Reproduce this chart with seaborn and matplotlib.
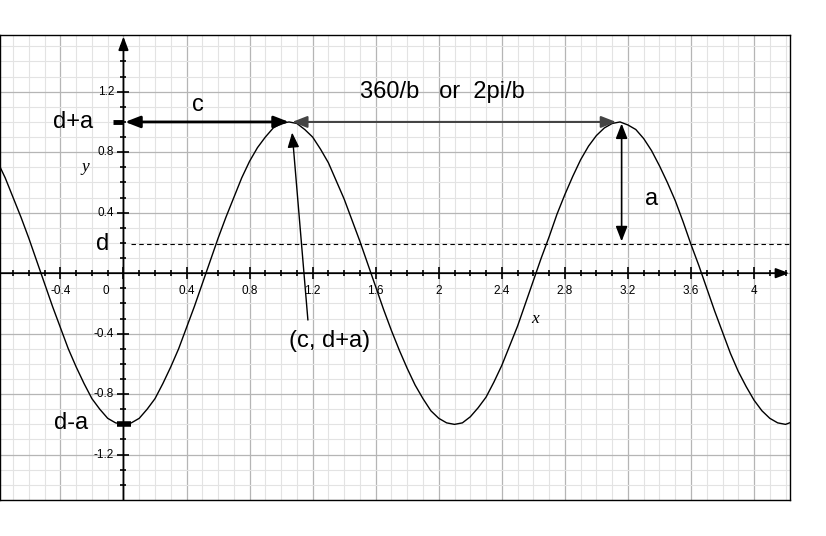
"""
Sinusoid y = d + a*cos(b(x - c)) annotated chart
"""

import matplotlib.pyplot as plt
import numpy as np
import pandas as pd
import seaborn as sns

sns.set_style("white")
plt.rcParams['font.family'] = ['Liberation Sans', 'DejaVu Sans']
plt.rcParams['text.color'] = 'black'

# curve values (x step 0.05)
curve_x = [
    -0.80, -0.75, -0.70, -0.65, -0.60, -0.55, -0.50, -0.45, -0.40, -0.35,
    -0.30, -0.25, -0.20, -0.15, -0.10, -0.05, 0.00, 0.05, 0.10, 0.15,
    0.20, 0.25, 0.30, 0.35, 0.40, 0.45, 0.50, 0.55, 0.60, 0.65,
    0.70, 0.75, 0.80, 0.85, 0.90, 0.95, 1.00, 1.05, 1.10, 1.15,
    1.20, 1.25, 1.30, 1.35, 1.40, 1.45, 1.50, 1.55, 1.60, 1.65,
    1.70, 1.75, 1.80, 1.85, 1.90, 1.95, 2.00, 2.05, 2.10, 2.15,
    2.20, 2.25, 2.30, 2.35, 2.40, 2.45, 2.50, 2.55, 2.60, 2.65,
    2.70, 2.75, 2.80, 2.85, 2.90, 2.95, 3.00, 3.05, 3.10, 3.15,
    3.20, 3.25, 3.30, 3.35, 3.40, 3.45, 3.50, 3.55, 3.60, 3.65,
    3.70, 3.75, 3.80, 3.85, 3.90, 3.95, 4.00, 4.05, 4.10, 4.15,
    4.20, 4.25,
]
curve_y = [
    0.74, 0.63, 0.50, 0.37, 0.23, 0.08, -0.07, -0.22, -0.36, -0.50,
    -0.62, -0.73, -0.83, -0.90, -0.96, -0.99, -1.00, -0.99, -0.96, -0.90,
    -0.83, -0.73, -0.62, -0.50, -0.36, -0.22, -0.07, 0.08, 0.23, 0.37,
    0.50, 0.63, 0.74, 0.83, 0.90, 0.96, 0.99, 1.00, 0.99, 0.95,
    0.90, 0.82, 0.73, 0.61, 0.49, 0.35, 0.21, 0.06, -0.09, -0.24,
    -0.38, -0.51, -0.63, -0.74, -0.83, -0.91, -0.96, -0.99, -1.00, -0.99,
    -0.95, -0.89, -0.82, -0.72, -0.61, -0.48, -0.35, -0.20, -0.05, 0.10,
    0.24, 0.39, 0.52, 0.64, 0.75, 0.84, 0.91, 0.96, 0.99, 1.00,
    0.98, 0.95, 0.89, 0.81, 0.71, 0.60, 0.48, 0.34, 0.19, 0.05,
    -0.10, -0.25, -0.39, -0.53, -0.65, -0.75, -0.84, -0.91, -0.96, -0.99,
    -1.00, -0.98,
]

# key values of the annotations
c_val = 1.06
d_val = 0.19
peak_y = 1.0
trough_y = -1.0
second_peak = 3.13

x_tick_vals = [-0.4, 0, 0.4, 0.8, 1.2, 1.6, 2, 2.4, 2.8, 3.2, 3.6, 4]
x_tick_labels = ['-0.4', '0', '0.4', '0.8', '1.2', '1.6', '2', '2.4', '2.8', '3.2', '3.6', '4']
y_tick_vals = [1.2, 0.8, 0.4, -0.4, -0.8, -1.2]
y_tick_labels = ['1.2', '0.8', '0.4', '-0.4', '-0.8', '-1.2']

XMIN, XMAX = -0.78, 4.228
YMIN, YMAX = -1.50, 1.575

fig = plt.figure(figsize=(8.26, 5.36), dpi=100)
ax = fig.add_axes([0.0006, 0.0672, 0.9558, 0.8675])
ax.set_xlim(XMIN, XMAX)
ax.set_ylim(YMIN, YMAX)

# grid paper
ax.set_xticks(np.arange(-0.4, 4.21, 0.4))
ax.set_xticks(np.arange(-0.7, 4.21, 0.1), minor=True)
ax.set_yticks(np.arange(-1.2, 1.21, 0.4))
ax.set_yticks(np.arange(-1.5, 1.56, 0.1), minor=True)
ax.grid(which='major', color='#b5b5b5', lw=0.9)
ax.grid(which='minor', color='#e3e3e3', lw=0.8)
ax.set_axisbelow(True)
ax.tick_params(which='both', length=0, labelbottom=False, labelleft=False)
for sp in ax.spines.values():
    sp.set_color('black')
    sp.set_linewidth(1.0)

# axes with arrows
ax.annotate('', xy=(XMAX - 0.005, 0), xytext=(XMIN, 0),
            arrowprops=dict(arrowstyle='-|>,head_length=0.8,head_width=0.3',
                            lw=1.3, color='black', mutation_scale=10, shrinkA=0, shrinkB=0))
ax.annotate('', xy=(0, YMAX - 0.01), xytext=(0, YMIN),
            arrowprops=dict(arrowstyle='-|>,head_length=0.8,head_width=0.3',
                            lw=1.3, color='black', mutation_scale=10, shrinkA=0, shrinkB=0))

# small ticks on the axes
minor_x = [v for v in np.arange(-0.7, 4.21, 0.1) if abs(round(v / 0.4) * 0.4 - v) > 1e-6]
minor_y = [v for v in np.arange(-1.4, 1.51, 0.1) if abs(round(v / 0.4) * 0.4 - v) > 1e-6]
ax.plot(minor_x, [0] * len(minor_x), ls='none', marker='|', ms=5, mew=1.2, color='black')
ax.plot(x_tick_vals, [0] * len(x_tick_vals), ls='none', marker='|', ms=8, mew=1.2, color='black')
ax.plot([0] * len(minor_y), minor_y, ls='none', marker='_', ms=5, mew=1.2, color='black')
ax.plot([0] * len(y_tick_vals), y_tick_vals, ls='none', marker='_', ms=8, mew=1.2, color='black')

# tick labels
for v, lab in zip(x_tick_vals, x_tick_labels):
    xv = -0.11 if v == 0 else v
    ax.text(xv, -0.115, lab, ha='center', va='center', fontsize=8.5)
for v, lab in zip(y_tick_vals, y_tick_labels):
    ax.text(-0.06, v, lab, ha='right', va='center', fontsize=8.5)

ax.text(-0.24, 0.70, 'y', fontsize=12.5, style='italic', family='Liberation Serif',
        ha='center', va='center')
ax.text(2.61, -0.30, 'x', fontsize=12.5, style='italic', family='Liberation Serif',
        ha='center', va='center')

# the curve
df = pd.DataFrame({'x': curve_x, 'y': curve_y})
sns.lineplot(data=df, x='x', y='y', color='black', lw=1.0, estimator=None, sort=False, ax=ax)
ax.set_xlabel('')
ax.set_ylabel('')

# midline d
ax.plot([0.05, XMAX], [d_val, d_val], color='black', lw=0.8, ls=(0, (4, 3)))

# marks on the y axis
ax.plot([-0.065, 0.0], [peak_y, peak_y], color='black', lw=3.5, solid_capstyle='butt')
ax.plot([-0.04, 0.045], [trough_y, trough_y], color='black', lw=4, solid_capstyle='butt')

# c arrow
ax.annotate('', xy=(c_val - 0.01, peak_y), xytext=(0.01, peak_y),
            arrowprops=dict(arrowstyle='<|-|>,head_length=0.9,head_width=0.35',
                            lw=2.0, color='black', mutation_scale=10, shrinkA=0, shrinkB=0))
# period arrow
ax.annotate('', xy=(second_peak - 0.005, peak_y), xytext=(c_val + 0.01, peak_y),
            arrowprops=dict(arrowstyle='<|-|>,head_length=0.9,head_width=0.35',
                            lw=1.5, color='#444444', mutation_scale=10, shrinkA=0, shrinkB=0))
# amplitude arrow
ax.annotate('', xy=(3.16, d_val + 0.02), xytext=(3.16, peak_y - 0.01),
            arrowprops=dict(arrowstyle='<|-|>,head_length=0.9,head_width=0.35',
                            lw=1.2, color='black', mutation_scale=10, shrinkA=0, shrinkB=0))
# pointer to (c, d+a)
ax.annotate('', xy=(1.07, 0.93), xytext=(1.17, -0.31),
            arrowprops=dict(arrowstyle='-|>,head_length=0.9,head_width=0.35',
                            lw=1.0, color='black', mutation_scale=10, shrinkA=0, shrinkB=0))

# labels
big = dict(fontsize=17, ha='center', va='center')
ax.text(-0.317, peak_y, 'd+a', **big)
ax.text(0.47, 1.11, 'c', **big)
ax.text(2.02, 1.195, '360/b   or  2pi/b', **big)
ax.text(3.35, 0.49, 'a', **big)
ax.text(-0.13, 0.195, 'd', **big)
ax.text(1.31, -0.45, '(c, d+a)', **big)
ax.text(-0.33, -0.99, 'd-a', **big)

plt.savefig('out.png', dpi=100)
